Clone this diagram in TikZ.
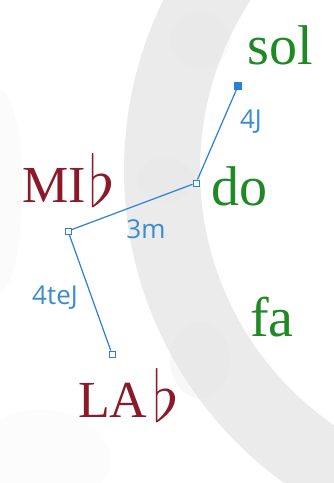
\documentclass[tikz,border=0pt]{standalone}
\usepackage{fontspec}
\setmainfont{Liberation Serif}
\newfontfamily\handfont{Open Sans}
\definecolor{notegreen}{HTML}{1F8A24}
\definecolor{notered}{HTML}{8A1A2A}
\definecolor{lineblue}{HTML}{2C7FD8}
\definecolor{labelblue}{HTML}{3A8CD2}
\definecolor{bandgray}{HTML}{EBEBEB}
\newcommand{\tallflat}{\raisebox{-4.5pt}{\scalebox{2.85}{$\flat$}}}
\begin{document}
\begin{tikzpicture}[x=1pt,y=-1pt,
  greennote/.style={text=notegreen,font=\fontsize{56}{60}\selectfont,inner sep=0pt},
  rednote/.style={text=notered,font=\fontsize{52}{56}\selectfont,inner sep=0pt},
  marker/.style={draw=lineblue,fill=white,line width=1pt,minimum size=6pt,inner sep=0pt,rectangle},
  endmarker/.style={draw=lineblue,fill=lineblue,line width=1pt,minimum size=7pt,inner sep=0pt,rectangle},
  link/.style={draw=lineblue,line width=1.2pt},
  interval/.style={text=labelblue,font=\handfont\fontsize{26}{28}\selectfont,inner sep=0pt}]
\useasboundingbox (0,0) rectangle (334,483);
\begin{scope}
\clip (0,0) rectangle (334,483);
\fill[white] (0,0) rectangle (334,483);
\fill[black!1.5] (0,190) ellipse (22 and 100);
\fill[black!1] (40,460) ellipse (70 and 50);
\fill[bandgray,even odd rule] (510,170) circle (386) (510,170) circle (310);
\fill[black!10,opacity=0.25] (165,180) ellipse (28 and 22);
\fill[black!10,opacity=0.25] (200,360) ellipse (30 and 38);
\fill[black!10,opacity=0.2] (200,40) ellipse (30 and 28);
\end{scope}
\node[greennote] (sol) at (280,45) {sol};
\node[greennote] (do) at (239,186) {do};
\node[greennote] (fa) at (272,317) {fa};
\node[rednote,anchor=base west] (mi) at (22,202) {MI\kern3pt\tallflat};
\node[rednote,anchor=base west] (la) at (78,417) {LA\kern5pt\tallflat};
\node[endmarker] (psol) at (238,86) {};
\node[marker] (pdo) at (196,183) {};
\node[marker] (pmi) at (68,231) {};
\node[marker] (pla) at (112,354) {};
\draw[link] (psol) -- (pdo);
\draw[link] (pdo) -- (pmi);
\draw[link] (pmi) -- (pla);
\node[interval] (l4j) at (251,122) {4J};
\node[interval] (l3m) at (146,229) {3m};
\node[interval] (l4tej) at (55,298) {4teJ};
\end{tikzpicture}
\end{document}
